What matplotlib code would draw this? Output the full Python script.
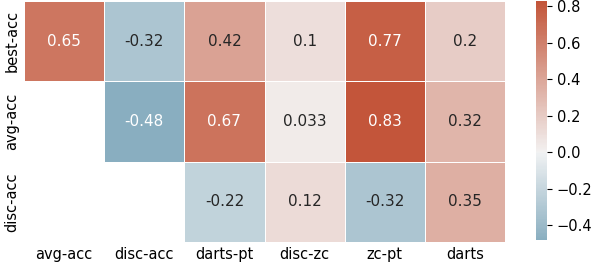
import numpy as np
import matplotlib
matplotlib.use("Agg")
import matplotlib.pyplot as plt
import seaborn as sns

row_labels = ["best-acc", "avg-acc", "disc-acc"]
col_labels = ["avg-acc", "disc-acc", "darts-pt", "disc-zc", "zc-pt", "darts"]
best_acc = [0.65, -0.32, 0.42, 0.1, 0.77, 0.2]
avg_acc = [np.nan, -0.48, 0.67, 0.033, 0.83, 0.32]
disc_acc = [np.nan, np.nan, -0.22, 0.12, -0.32, 0.35]

data = np.array([best_acc, avg_acc, disc_acc])
mask = np.isnan(data)

fig = plt.figure(figsize=(5.92, 2.66), dpi=100)
ax = fig.add_axes([24 / 592, 24 / 266, 481 / 592, 241 / 266])
cax = fig.add_axes([536 / 592, 26 / 266, 11 / 592, 239 / 266])

cmap = sns.diverging_palette(230, 20, as_cmap=True)
sns.heatmap(data, mask=mask, cmap=cmap, center=0, annot=True, fmt=".2g",
            linewidths=0.7, linecolor="white", ax=ax, cbar_ax=cax,
            xticklabels=col_labels, yticklabels=row_labels,
            annot_kws={"fontsize": 11})

ax.tick_params(length=0, labelsize=10.5)
ax.set_yticklabels(row_labels, rotation=90, va="center")
ax.set_xticklabels(col_labels, rotation=0)
cax.tick_params(labelsize=10.5)
for s in cax.spines.values():
    s.set_visible(False)

fig.savefig("out.png", dpi=100)
